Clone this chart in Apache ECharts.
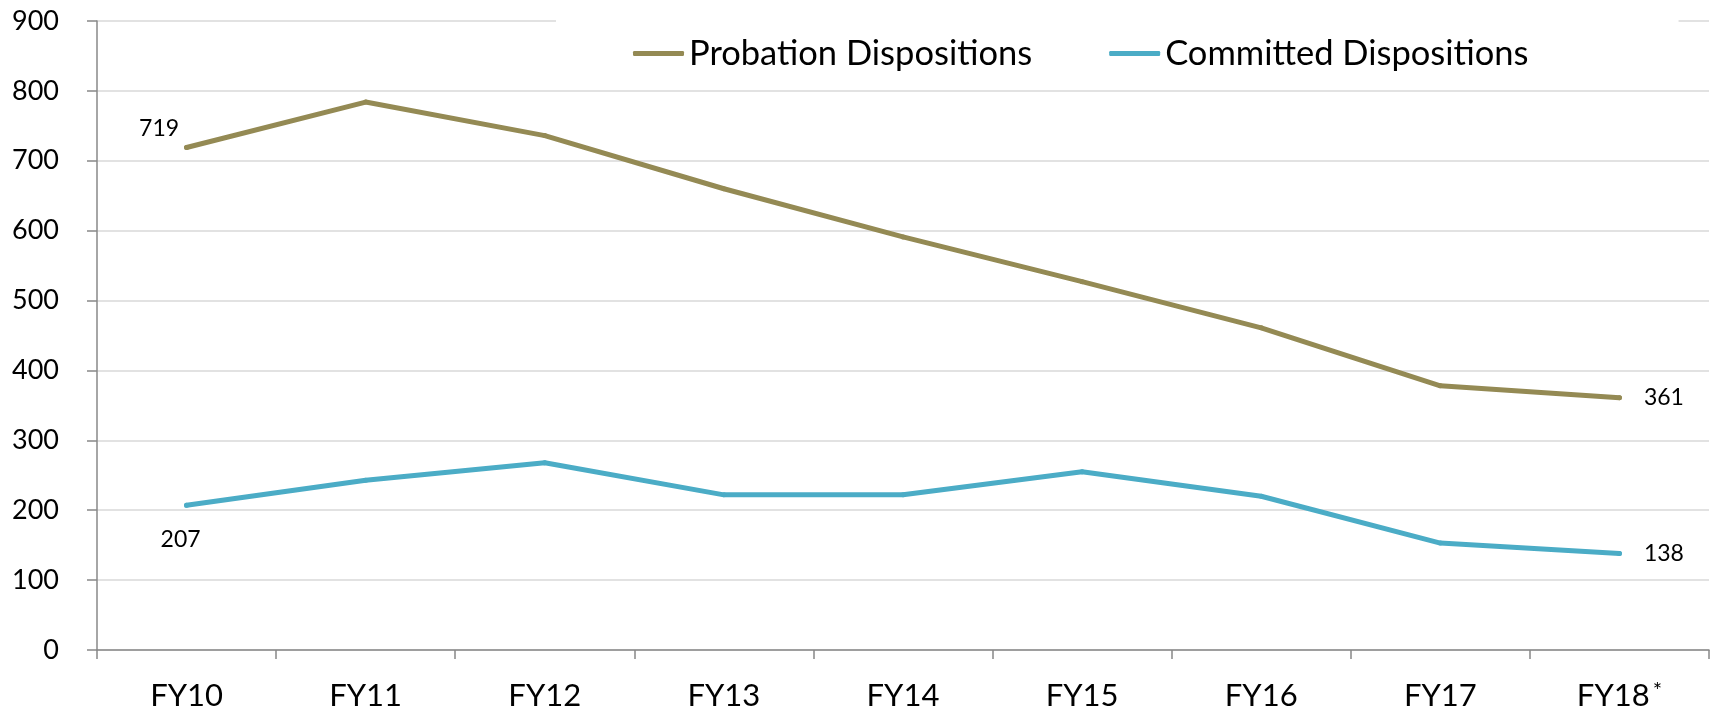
<!DOCTYPE html>
<html>
<head>
<meta charset="utf-8">
<script src="https://cdn.jsdelivr.net/npm/echarts@6/dist/echarts.min.js"></script>
<style>
html,body{margin:0;padding:0;background:#fff;}
#chart{width:1717px;height:714px;}
</style>
</head>
<body>
<div id="chart"></div>
<script>
const categories = ['FY10','FY11','FY12','FY13','FY14','FY15','FY16','FY17','FY18*'];
const probation = [719, 784, 736, 660, 591, 527, 461, 378, 361];
const committed = [207, 243, 268, 222, 222, 255, 220, 153, 138];
const yTicks = [0,100,200,300,400,500,600,700,800,900];

const FONT = 'Lato, "Open Sans", sans-serif';

function withLabels(values, firstLabel, lastLabel) {
  return values.map((v, i) => {
    if (i === 0) return { value: v, label: Object.assign({ show: true }, firstLabel) };
    if (i === values.length - 1) return { value: v, label: Object.assign({ show: true }, lastLabel) };
    return v;
  });
}

const labelText = { color: '#000', fontFamily: FONT, fontSize: 23 };

const chart = echarts.init(document.getElementById('chart'), null, { renderer: 'canvas' });
chart.setOption({
  animation: false,
  backgroundColor: '#fff',
  grid: { left: 97, right: 8, top: 21, bottom: 64, containLabel: false },
  legend: {
    left: 556, top: 4,
    padding: [32, 150, 8, 77],
    backgroundColor: '#fff',
    itemWidth: 51, itemHeight: 5,
    itemGap: 77,
    icon: 'roundRect',
    textStyle: { fontFamily: FONT, fontSize: 34.5, color: '#000' },
    data: ['Probation Dispositions', 'Committed Dispositions']
  },
  xAxis: {
    type: 'category',
    data: categories,
    boundaryGap: true,
    axisLine: { lineStyle: { color: '#888888', width: 1.5 } },
    axisTick: { show: true, interval: 0, length: 9, lineStyle: { color: '#888888', width: 1.5 } },
    axisLabel: {
      interval: 0,
      margin: 30,
      fontFamily: FONT, fontSize: 31, color: '#000',
      formatter: function (v) { return v.endsWith('*') ? v.slice(0, -1) + '{sup|*}' : v; },
      rich: { sup: { fontFamily: FONT, fontSize: 22, color: '#000', verticalAlign: 'top', padding: [0,0,9,3] } }
    },
    splitLine: { show: false }
  },
  yAxis: {
    type: 'value',
    min: yTicks[0], max: yTicks[yTicks.length - 1], interval: 100,
    axisLine: { show: true, lineStyle: { color: '#888888', width: 1.5 } },
    axisTick: { show: true, length: 10, lineStyle: { color: '#888888', width: 1.5 } },
    axisLabel: { margin: 38, fontFamily: FONT, fontSize: 27, color: '#000' },
    splitLine: { show: true, lineStyle: { color: '#d9d9d9', width: 1.5 } }
  },
  series: [
    {
      name: 'Probation Dispositions',
      type: 'line',
      showSymbol: true,
      symbol: 'circle',
      symbolSize: 5,
      color: '#948A54',
      lineStyle: { color: '#948A54', width: 5, cap: 'round', join: 'round' },
      itemStyle: { color: '#948A54', borderWidth: 0 },
      label: labelText,
      data: withLabels(probation,
        Object.assign({ position: 'left', offset: [0, -19] }, labelText),
        Object.assign({ position: 'right', distance: 22 }, labelText))
    },
    {
      name: 'Committed Dispositions',
      type: 'line',
      showSymbol: true,
      symbol: 'circle',
      symbolSize: 5,
      color: '#4BACC6',
      lineStyle: { color: '#4BACC6', width: 5, cap: 'round', join: 'round' },
      itemStyle: { color: '#4BACC6', borderWidth: 0 },
      label: labelText,
      data: withLabels(committed,
        Object.assign({ position: 'bottom', offset: [-6, 15] }, labelText),
        Object.assign({ position: 'right', distance: 22 }, labelText))
    }
  ]
});
</script>
</body>
</html>
